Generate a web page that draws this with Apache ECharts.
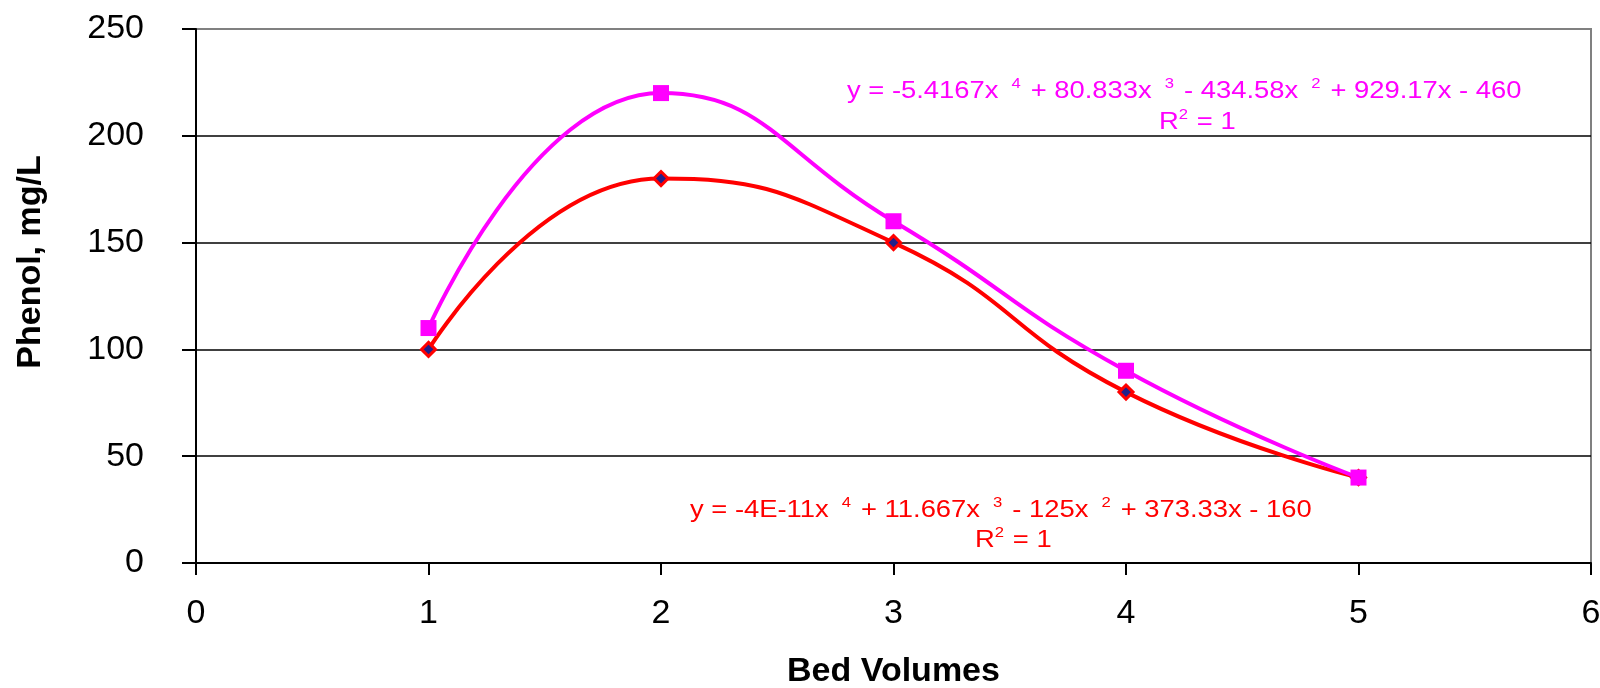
<!DOCTYPE html>
<html>
<head>
<meta charset="utf-8">
<script src="https://cdn.jsdelivr.net/npm/echarts@6/dist/echarts.min.js"></script>
<style>
html,body{margin:0;padding:0;background:#fff;}
#chart{width:1600px;height:688px;}
</style>
</head>
<body>
<div id="chart"></div>
<script>
// ---- data ----
const bedVolumes = [1, 2, 3, 4, 5];
const phenolMagenta = [110, 220, 160, 90, 40];
const phenolRed = [100, 180, 150, 80, 40];
const xTicks = [0, 1, 2, 3, 4, 5, 6];
const yTicks = [0, 50, 100, 150, 200, 250];
const eqMagenta = ['y = -5.4167x', '4', ' + 80.833x', '3', ' - 434.58x', '2', ' + 929.17x - 460'];
const eqRed = ['y = -4E-11x', '4', ' + 11.667x', '3', ' - 125x', '2', ' + 373.33x - 160'];
const r2Text = ['R', '2', ' = 1'];

const FONT = "'Liberation Sans', Arial, sans-serif";

function richEq(parts) {
  return parts.map((p, i) => (i % 2 === 0 ? '{n|' + p + '}' : '{s|' + p + '}')).join('');
}
function richR2(parts) {
  return '{n|' + parts[0] + '}{t|' + parts[1] + '}{n|' + parts[2] + '}';
}
function richStyle(color) {
  return {
    n: { fontSize: 23, lineHeight: 30, fontFamily: FONT, fill: color, verticalAlign: 'middle' },
    s: { fontSize: 14, lineHeight: 12, fontFamily: FONT, fill: color, verticalAlign: 'top', padding: [0, 2, 0, 11] },
    t: { fontSize: 14, lineHeight: 12, fontFamily: FONT, fill: color, verticalAlign: 'top', padding: [0, 1, 0, 0] }
  };
}

const chart = echarts.init(document.getElementById('chart'));
const option = {
  backgroundColor: '#ffffff',
  animation: false,
  grid: {
    left: 196, right: 9, top: 29, bottom: 125,
    containLabel: false, outerBoundsMode: 'none',
    show: true, borderColor: '#808080', borderWidth: 2, backgroundColor: 'transparent'
  },
  xAxis: {
    type: 'value',
    min: xTicks[0], max: xTicks[xTicks.length - 1], interval: 1,
    name: 'Bed Volumes', nameLocation: 'middle', nameGap: 92,
    nameTextStyle: { fontSize: 34, fontWeight: 'bold', color: '#000', fontFamily: FONT },
    axisLine: { show: true, onZero: false, lineStyle: { color: '#000', width: 2 } },
    axisTick: { show: true, inside: false, length: 12, lineStyle: { color: '#000', width: 2 } },
    axisLabel: { fontSize: 34, color: '#000', margin: 34, fontFamily: FONT },
    splitLine: { show: false }
  },
  yAxis: {
    type: 'value',
    min: yTicks[0], max: yTicks[yTicks.length - 1], interval: 50,
    name: 'Phenol, mg/L', nameLocation: 'middle', nameGap: 148, nameRotate: 90,
    nameTextStyle: { fontSize: 34, fontWeight: 'bold', color: '#000', fontFamily: FONT, padding: [0, 0, 0, 68] },
    axisLine: { show: true, onZero: false, lineStyle: { color: '#000', width: 2 } },
    axisTick: { show: true, inside: false, length: 14, lineStyle: { color: '#000', width: 2 } },
    axisLabel: { fontSize: 34, color: '#000', margin: 52, fontFamily: FONT },
    splitLine: { show: true, lineStyle: { color: ['#000', '#000', '#000', '#000', '#000', '#808080'], width: 1.5 } }
  },
  series: [
    {
      name: 'Red',
      type: 'line',
      data: bedVolumes.map((x, i) => [x, phenolRed[i]]),
      smooth: 0.5,
      lineStyle: { color: '#ff0000', width: 4 },
      symbol: 'diamond', symbolSize: 14,
      itemStyle: { color: '#22208a', borderColor: '#ff0000', borderWidth: 3 },
      z: 3
    },
    {
      name: 'Magenta',
      type: 'line',
      data: bedVolumes.map((x, i) => [x, phenolMagenta[i]]),
      smooth: 0.5,
      lineStyle: { color: '#ff00ff', width: 4 },
      symbol: 'rect', symbolSize: 16,
      itemStyle: { color: '#ff00ff', borderWidth: 0 },
      z: 4
    }
  ],
  graphic: [
    { type: 'text', x: 847, y: 92, scaleX: 1.19, z: 10,
      style: { text: richEq(eqMagenta), rich: richStyle('#ff00ff'), fill: '#ff00ff', verticalAlign: 'middle', align: 'left' } },
    { type: 'text', x: 1159, y: 123, scaleX: 1.19, z: 10,
      style: { text: richR2(r2Text), rich: richStyle('#ff00ff'), fill: '#ff00ff', verticalAlign: 'middle', align: 'left' } },
    { type: 'text', x: 690, y: 511, scaleX: 1.19, z: 10,
      style: { text: richEq(eqRed), rich: richStyle('#ff0000'), fill: '#ff0000', verticalAlign: 'middle', align: 'left' } },
    { type: 'text', x: 975, y: 541, scaleX: 1.19, z: 10,
      style: { text: richR2(r2Text), rich: richStyle('#ff0000'), fill: '#ff0000', verticalAlign: 'middle', align: 'left' } }
  ]
};
chart.setOption(option);
</script>
</body>
</html>
